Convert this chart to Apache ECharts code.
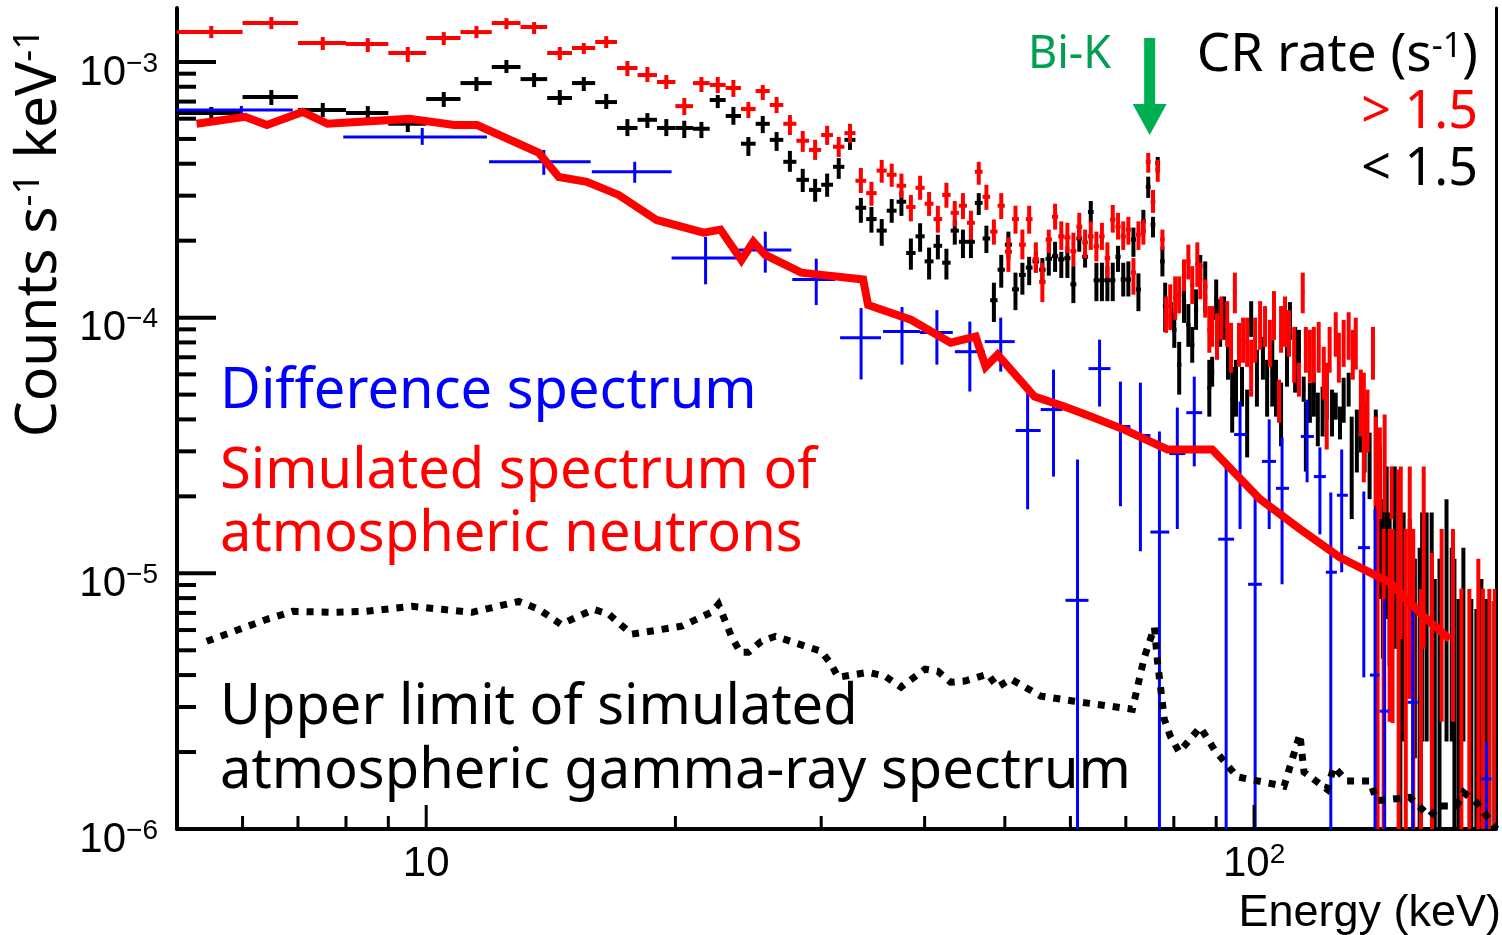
<!DOCTYPE html>
<html><head><meta charset="utf-8">
<script src="https://cdn.jsdelivr.net/npm/echarts@6/dist/echarts.min.js"></script>
<style>html,body{margin:0;padding:0;background:#fff;}#chart{width:1502px;height:935px;}</style>
</head><body><div id="chart"></div>
<script>
// ---------------- data (keV, counts s^-1 keV^-1) ----------------
const energyRange = [5, 196];
const rateRange = [1e-6, 1.626e-3];
const xMajorTicks = [10, 100];
const xMinorTicks = [6, 7, 8, 9, 20, 30, 40, 50, 60, 70, 80, 90];
const yMajorTicks = [1e-6, 1e-5, 1e-4, 1e-3];
const yMinorTicks = [2e-6,3e-6,4e-6,5e-6,6e-6,7e-6,8e-6,9e-6,2e-5,3e-5,4e-5,5e-5,6e-5,7e-5,8e-5,9e-5,2e-4,3e-4,4e-4,5e-4,6e-4,7e-4,8e-4,9e-4];
const binHalfWidth = 0.5;     // 1 keV bins of the CR-rate spectra
const biKEnergy = 74.8;

// CR rate < 1.5 s^-1 : [E, rate, rateLow, rateHigh]
const crLow = [
[5.5,6.31e-4,6.04e-4,6.67e-4],[6.5,7.30e-4,6.79e-4,7.77e-4],[7.5,6.49e-4,6.09e-4,6.91e-4],[8.5,6.31e-4,5.98e-4,6.72e-4],
[9.5,5.73e-4,5.32e-4,6.04e-4],[10.5,7.16e-4,6.67e-4,7.63e-4],[11.5,8.27e-4,7.70e-4,8.73e-4],[12.5,9.56e-4,9.05e-4,1.018e-3],
[13.5,8.57e-4,7.98e-4,9.05e-4],[14.5,7.23e-4,6.79e-4,7.77e-4],[15.5,8.27e-4,7.70e-4,8.73e-4],[16.5,6.97e-4,6.55e-4,7.50e-4],
[17.5,5.52e-4,5.13e-4,5.98e-4],[18.5,5.94e-4,5.52e-4,6.31e-4],[19.5,5.52e-4,5.13e-4,5.98e-4],[20.5,5.52e-4,5.04e-4,5.89e-4],
[21.5,5.48e-4,5.04e-4,5.83e-4],[22.5,7.10e-4,6.60e-4,7.43e-4],[23.5,6.15e-4,5.68e-4,6.67e-4],[24.5,4.79e-4,4.29e-4,5.09e-4],
[25.5,5.73e-4,5.27e-4,6.15e-4],[26.5,4.96e-4,4.49e-4,5.32e-4],[27.5,4.07e-4,3.72e-4,4.49e-4],[28.5,3.46e-4,3.10e-4,3.82e-4],
[29.5,3.16e-4,2.84e-4,3.49e-4],[30.5,3.31e-4,2.97e-4,3.66e-4],[31.5,3.89e-4,3.49e-4,4.21e-4],[32.5,4.96e-4,4.53e-4,5.42e-4],
[33.5,2.69e-4,2.35e-4,2.94e-4],[34.5,2.43e-4,2.15e-4,2.71e-4],[35.5,2.19e-4,1.91e-4,2.43e-4],[36.5,2.62e-4,2.35e-4,2.91e-4],
[37.5,2.84e-4,2.50e-4,3.13e-4],[38.5,1.79e-4,1.54e-4,2.04e-4],[39.5,2.08e-4,1.81e-4,2.34e-4],[40.5,1.66e-4,1.41e-4,1.88e-4],
[41.5,1.91e-4,1.69e-4,2.11e-4],[42.5,1.64e-4,1.41e-4,1.86e-4],[43.5,2.19e-4,1.93e-4,2.42e-4],[44.5,1.98e-4,1.71e-4,2.21e-4],
[45.5,1.98e-4,1.71e-4,2.25e-4],[46.5,2.81e-4,2.52e-4,3.07e-4],[47.5,2.04e-4,1.79e-4,2.29e-4],[48.5,1.17e-4,9.62e-5,1.37e-4],
[49.5,1.54e-4,1.31e-4,1.76e-4],[50.5,1.93e-4,1.69e-4,2.17e-4],[51.5,1.29e-4,1.07e-4,1.50e-4],[52.5,1.47e-4,1.23e-4,1.64e-4],
[53.5,1.57e-4,1.34e-4,1.73e-4],[54.5,1.66e-4,1.50e-4,1.81e-4],[55.5,1.54e-4,1.35e-4,1.71e-4],[56.5,1.70e-4,1.46e-4,1.98e-4],
[57.5,1.74e-4,1.51e-4,1.98e-4],[58.5,1.69e-4,1.43e-4,1.81e-4],[59.5,1.71e-4,1.43e-4,1.90e-4],[60.5,1.35e-4,1.14e-4,1.59e-4],
[61.5,2.04e-4,1.81e-4,2.25e-4],[62.5,1.73e-4,1.57e-4,1.81e-4],[63.5,2.59e-4,2.35e-4,2.86e-4],[64.5,1.40e-4,1.16e-4,1.64e-4],
[65.5,1.40e-4,1.16e-4,1.64e-4],[66.5,1.40e-4,1.16e-4,1.59e-4],[67.5,1.40e-4,1.16e-4,1.64e-4],[68.5,1.73e-4,1.51e-4,1.91e-4],
[69.5,1.41e-4,1.21e-4,1.64e-4],[70.5,1.41e-4,1.21e-4,1.66e-4],[71.5,2.02e-4,1.73e-4,2.25e-4],[72.5,1.29e-4,1.06e-4,1.49e-4],
[73.5,2.38e-4,2.11e-4,2.64e-4],[74.5,3.25e-4,2.94e-4,3.56e-4],[75.5,2.31e-4,2.06e-4,2.48e-4],[76.5,4.03e-4,3.69e-4,4.25e-4],
[77.5,1.66e-4,1.45e-4,1.90e-4],[78.1,1.11e-4,8.80e-5,1.37e-4],[79.4,1.01e-4,8.96e-5,1.15e-4],[80.1,8.96e-5,7.62e-5,1.04e-4],
[81.2,6.54e-5,5.00e-5,8.04e-5],[82.3,1.16e-4,9.54e-5,1.38e-4],[83.3,9.37e-5,7.69e-5,1.13e-4],[84.2,7.83e-5,6.66e-5,9.20e-5],
[85.1,1.07e-4,8.96e-5,1.29e-4],[86.1,1.59e-4,1.41e-4,1.76e-4],[87.3,1.32e-4,1.04e-4,1.66e-4],[88.3,5.32e-5,4.10e-5,6.84e-5],
[89.0,6.15e-5,5.37e-5,7.03e-5],[90.0,1.18e-4,9.80e-5,1.41e-4],[91.0,9.54e-5,7.69e-5,1.18e-4],[92.0,9.95e-5,8.19e-5,1.21e-4],
[93.0,6.66e-5,5.72e-5,7.69e-5],[94.1,4.78e-5,3.55e-5,6.42e-5],[95.1,5.32e-5,4.10e-5,6.84e-5],[96.7,5.37e-5,4.49e-5,6.42e-5],
[98.1,3.85e-5,2.84e-5,5.23e-5],[99.2,9.80e-5,8.41e-5,1.16e-4],[100.8,5.82e-5,4.49e-5,7.49e-5],[102.5,6.97e-5,5.72e-5,8.41e-5],
[103.7,5.32e-5,4.10e-5,6.84e-5],[105.2,6.09e-5,4.49e-5,8.19e-5],[106.3,5.32e-5,4.10e-5,6.84e-5],[107.8,4.18e-5,3.14e-5,5.57e-5],
[109.6,6.42e-5,5.37e-5,7.69e-5],[110.5,9.71e-5,8.19e-5,1.15e-4],[112.1,6.84e-5,5.09e-5,9.20e-5],[113.3,7.62e-5,6.42e-5,8.96e-5],
[114.8,5.23e-5,4.69e-5,5.88e-5],[115.5,3.43e-5,2.50e-5,4.69e-5],[116.8,4.57e-5,3.88e-5,5.57e-5],[118.1,5.00e-5,4.10e-5,6.09e-5],
[119.4,3.99e-5,3.14e-5,5.09e-5],[121.0,4.29e-5,3.43e-5,5.37e-5],[122.4,4.95e-5,3.99e-5,6.09e-5],[124.2,4.25e-5,3.43e-5,5.23e-5],
[125.5,4.53e-5,3.99e-5,5.09e-5],[127.0,3.88e-5,3.34e-5,4.49e-5],[128.3,4.69e-5,3.88e-5,5.82e-5],[130.1,5.23e-5,4.49e-5,6.09e-5],
[131.2,2.60e-5,1.63e-5,4.10e-5],[133.1,3.31e-5,2.48e-5,4.37e-5],[134.6,3.46e-5,2.97e-5,3.99e-5],[136.0,3.43e-5,2.48e-5,4.69e-5],
[137.9,2.64e-5,1.95e-5,3.55e-5],[140.3,2.67e-5,1.63e-5,4.37e-5],[141.9,1.63e-5,7.94e-6,3.14e-5],[143.1,1.14e-5,4.63e-6,1.95e-5],
[144.6,1.36e-5,6.63e-6,2.62e-5],[145.8,8.69e-6,4.35e-6,1.73e-5],[147.9,1.14e-5,5.07e-6,2.62e-5],[150.2,5.54e-6,1e-7,1.36e-5],
[151.6,6.07e-6,2.20e-6,1.73e-5],[154.2,7.94e-6,3.24e-6,1.63e-5],[156.4,5.07e-6,1.89e-6,1.14e-5],[158.5,3.54e-6,1e-7,1.26e-5],
[159.6,7.94e-6,2.20e-6,1.73e-5],[161.6,6.63e-6,2.20e-6,1.73e-5],[163.9,6.07e-6,2.20e-6,1.73e-5],[165.3,3.87e-6,1e-7,9.50e-6],
[167.5,3.24e-6,1e-7,1.14e-5],[170.8,6.63e-6,2.20e-6,1.95e-5],[173.3,5.54e-6,2.20e-6,1.26e-5],[174.6,3.87e-6,1e-7,1.14e-5],
[176.6,3.24e-6,1e-7,7.94e-6],[179.0,5.54e-6,2.20e-6,1.26e-5],[183.0,2.70e-6,1e-7,7.94e-6],[185.6,2.70e-6,1e-7,7.26e-6],
[188.2,3.24e-6,1e-7,9.50e-6],[190.8,3.24e-6,1e-7,7.94e-6],[192.4,2.70e-6,1e-7,7.80e-6],[195.1,2.26e-6,1e-7,7.80e-6]
];

// CR rate > 1.5 s^-1 : [E, rate, rateLow, rateHigh]
const crHigh = [
[5.5,1.309e-3,1.240e-3,1.382e-3],[6.5,1.420e-3,1.345e-3,1.499e-3],[7.5,1.186e-3,1.114e-3,1.252e-3],[8.5,1.176e-3,1.094e-3,1.240e-3],
[9.5,1.084e-3,1.0e-3,1.145e-3],[10.5,1.240e-3,1.165e-3,1.309e-3],[11.5,1.309e-3,1.240e-3,1.382e-3],[12.5,1.420e-3,1.345e-3,1.484e-3],
[13.5,1.370e-3,1.286e-3,1.433e-3],[14.5,1.084e-3,1.018e-3,1.145e-3],[15.5,1.134e-3,1.075e-3,1.186e-3],[16.5,1.197e-3,1.134e-3,1.262e-3],
[17.5,9.47e-4,8.81e-4,1.009e-3],[18.5,8.89e-4,8.35e-4,9.56e-4],[19.5,8.35e-4,7.84e-4,8.89e-4],[20.5,6.72e-4,6.20e-4,7.23e-4],
[21.5,8.27e-4,7.63e-4,8.73e-4],[22.5,8.13e-4,7.56e-4,8.73e-4],[23.5,7.91e-4,7.30e-4,8.50e-4],[24.5,6.55e-4,6.04e-4,6.97e-4],
[25.5,7.70e-4,7.10e-4,8.13e-4],[26.5,6.79e-4,6.31e-4,7.30e-4],[27.5,5.73e-4,5.18e-4,6.20e-4],[28.5,4.92e-4,4.45e-4,5.37e-4],
[29.5,4.53e-4,4.14e-4,4.96e-4],[30.5,5.18e-4,4.74e-4,5.63e-4],[31.5,4.66e-4,4.25e-4,5.09e-4],[32.5,5.27e-4,4.83e-4,5.73e-4],
[33.5,3.43e-4,3.07e-4,3.85e-4],[34.5,3.07e-4,2.74e-4,3.40e-4],[35.5,3.76e-4,3.37e-4,4.14e-4],[36.5,3.62e-4,3.25e-4,4.00e-4],
[37.5,3.28e-4,2.94e-4,3.66e-4],[38.5,2.71e-4,2.38e-4,3.02e-4],[39.5,3.22e-4,2.89e-4,3.59e-4],[40.5,2.79e-4,2.50e-4,3.10e-4],
[41.5,2.43e-4,2.15e-4,2.74e-4],[42.5,3.02e-4,2.69e-4,3.37e-4],[43.5,2.57e-4,2.27e-4,2.86e-4],[44.5,2.74e-4,2.43e-4,3.07e-4],
[45.5,2.35e-4,2.02e-4,2.62e-4],[46.5,3.72e-4,3.31e-4,4.07e-4],[47.5,2.97e-4,2.64e-4,3.31e-4],[48.5,2.17e-4,1.93e-4,2.42e-4],
[49.5,2.74e-4,2.43e-4,3.07e-4],[50.5,1.81e-4,1.51e-4,2.06e-4],[51.5,2.43e-4,2.13e-4,2.74e-4],[52.5,1.93e-4,1.69e-4,2.21e-4],
[53.5,2.43e-4,2.13e-4,2.74e-4],[54.5,1.69e-4,1.50e-4,1.97e-4],[55.5,1.38e-4,1.15e-4,1.64e-4],[56.5,2.02e-4,1.79e-4,2.21e-4],
[57.5,2.48e-4,2.21e-4,2.79e-4],[58.5,2.08e-4,1.84e-4,2.38e-4],[59.5,2.06e-4,1.79e-4,2.35e-4],[60.5,1.82e-4,1.59e-4,2.15e-4],
[61.5,2.27e-4,2.02e-4,2.57e-4],[62.5,1.97e-4,1.71e-4,2.21e-4],[63.5,2.08e-4,1.84e-4,2.38e-4],[64.5,1.90e-4,1.66e-4,2.17e-4],
[65.5,2.08e-4,1.84e-4,2.35e-4],[66.5,1.71e-4,1.43e-4,1.97e-4],[67.5,2.42e-4,2.15e-4,2.76e-4],[68.5,2.27e-4,2.02e-4,2.57e-4],
[69.5,2.08e-4,1.84e-4,2.38e-4],[70.5,2.21e-4,1.93e-4,2.48e-4],[71.5,1.50e-4,1.23e-4,1.71e-4],[72.5,2.11e-4,1.84e-4,2.38e-4],
[73.5,2.19e-4,1.93e-4,2.42e-4],[74.5,4.07e-4,3.69e-4,4.41e-4],[75.5,2.84e-4,2.57e-4,3.16e-4],[76.5,3.79e-4,3.40e-4,4.14e-4],
[77.5,2.02e-4,1.84e-4,2.21e-4],[78.3,1.02e-4,8.72e-5,1.21e-4],[79.2,1.11e-4,8.96e-5,1.35e-4],[80.3,1.20e-4,9.80e-5,1.45e-4],
[81.2,1.23e-4,1.04e-4,1.45e-4],[82.3,1.46e-4,1.27e-4,1.69e-4],[83.3,1.66e-4,1.41e-4,1.93e-4],[84.2,1.34e-4,1.13e-4,1.59e-4],
[85.4,1.62e-4,1.32e-4,1.97e-4],[86.1,1.40e-4,1.18e-4,1.64e-4],[87.3,1.20e-4,1.00e-4,1.41e-4],[88.3,8.96e-5,7.29e-5,1.11e-4],
[89.0,9.20e-5,7.69e-5,1.11e-4],[90.2,8.49e-5,6.84e-5,1.04e-4],[91.3,9.95e-5,8.19e-5,1.21e-4],[92.8,9.46e-5,7.69e-5,1.16e-4],
[93.8,7.62e-5,6.09e-5,9.54e-5],[94.8,1.26e-4,1.04e-4,1.50e-4],[95.9,7.83e-5,6.42e-5,9.54e-5],[97.0,8.19e-5,6.66e-5,1.00e-4],
[98.1,8.04e-5,6.42e-5,1.00e-4],[99.2,6.36e-5,4.91e-5,8.19e-5],[100.3,8.19e-5,6.66e-5,1.00e-4],[101.7,9.28e-5,7.49e-5,1.16e-4],
[103.1,9.20e-5,7.69e-5,1.11e-4],[104.5,7.97e-5,6.42e-5,9.80e-5],[105.7,1.01e-4,8.19e-5,1.27e-4],[107.2,4.65e-5,3.88e-5,5.72e-5],
[107.8,8.96e-5,7.29e-5,1.11e-4],[109.0,9.62e-5,7.69e-5,1.21e-4],[110.2,8.72e-5,7.03e-5,1.07e-4],[111.8,7.16e-5,5.57e-5,9.20e-5],
[113.3,5.72e-5,4.91e-5,6.66e-5],[114.5,1.26e-4,1.04e-4,1.50e-4],[115.5,7.49e-5,6.09e-5,9.20e-5],[116.8,7.09e-5,5.57e-5,8.96e-5],
[118.1,7.16e-5,5.57e-5,9.20e-5],[119.7,7.69e-5,6.09e-5,9.62e-5],[121.4,6.09e-5,4.78e-5,7.69e-5],[122.4,4.53e-5,3.05e-5,6.66e-5],
[123.4,7.49e-5,6.09e-5,9.20e-5],[125.5,8.65e-5,7.03e-5,1.05e-4],[126.6,6.97e-5,5.57e-5,8.72e-5],[128.3,7.97e-5,6.42e-5,9.80e-5],
[130.1,8.49e-5,6.84e-5,1.05e-4],[131.6,7.16e-5,5.72e-5,8.96e-5],[132.7,7.97e-5,6.26e-5,1.00e-4],[134.6,4.65e-5,3.43e-5,6.26e-5],
[135.7,3.72e-5,2.27e-5,6.09e-5],[137.1,3.96e-5,2.97e-5,5.23e-5],[139.2,7.29e-5,5.72e-5,9.20e-5],[140.3,2.74e-5,1.83e-5,4.10e-5],
[141.9,2.46e-5,1.63e-5,3.72e-5],[143.8,2.70e-5,1.73e-5,4.18e-5],[146.6,2.07e-5,1.63e-5,2.62e-5],[141.0,8.0e-6,1e-7,2.0e-5],
[143.4,3.87e-6,1e-7,1.49e-5],[145.8,6.63e-6,2.63e-6,1.49e-5],[147.0,6.6e-6,2.6e-6,1.49e-5],[149.5,5.07e-6,1e-7,2.55e-5],
[150.4,1.63e-5,5.54e-6,2.62e-5],[152.5,6.6e-6,1e-7,1.49e-5],[154.2,1.14e-5,3.24e-6,2.62e-5],[155.7,5.07e-6,1e-7,1.49e-5],
[159.1,3.24e-6,1e-7,8.69e-6],[160.3,1.36e-5,5.07e-6,2.62e-5],[164.0,4.0e-6,1e-7,1.2e-5],[168.5,6.63e-6,2.63e-6,1.49e-5],
[173.9,6.63e-6,2.63e-6,1.49e-5],[178.0,3.5e-6,1e-7,8.7e-6],[182.0,3.24e-6,1e-7,8.69e-6],[186.6,3.87e-6,1e-7,1.14e-5],
[189.0,3.5e-6,1e-7,8.7e-6],[192.4,3.24e-6,1e-7,8.69e-6],[195.4,3.24e-6,1e-7,8.69e-6]
];

// Difference spectrum : [Elow, Ehigh, E, rate, rateLow, rateHigh]
const diffSpectrum = [
[5.0,6.9,5.98,6.49e-4,6.26e-4,6.73e-4],[7.94,11.84,9.89,5.09e-4,4.74e-4,5.52e-4],[11.91,15.8,13.87,4.07e-4,3.62e-4,4.53e-4],
[15.85,19.79,17.86,3.72e-4,3.37e-4,4.07e-4],[19.79,23.83,21.75,1.71e-4,1.35e-4,2.07e-4],[23.83,27.61,25.68,1.84e-4,1.50e-4,2.17e-4],
[27.68,31.19,29.59,1.41e-4,1.12e-4,1.70e-4],[31.62,35.43,33.52,8.35e-5,5.73e-5,1.09e-4],[35.63,39.48,37.56,8.82e-5,6.55e-5,1.10e-4],
[39.48,43.26,41.39,8.74e-5,6.55e-5,1.07e-4],[43.51,47.28,45.36,7.36e-5,5.14e-5,9.65e-5],[47.28,51.39,49.43,8.06e-5,6.15e-5,1.0e-4],
[51.52,55.24,53.27,3.62e-5,1.78e-5,5.47e-5],[55.24,58.7,57.25,4.37e-5,2.39e-5,6.26e-5],[59.19,63.1,61.2,7.84e-6,1e-7,2.79e-5],
[63.1,67.08,65.07,6.32e-5,4.49e-5,8.20e-5],[67.08,70.89,68.96,3.75e-5,1.83e-5,5.62e-5],[70.89,74.95,72.9,3.46e-5,1.22e-5,5.57e-5],
[74.95,78.99,76.86,1.45e-5,1e-7,3.59e-5],[78.99,82.59,80.78,2.94e-5,1.49e-5,4.45e-5],[82.82,86.57,84.68,4.25e-5,2.62e-5,5.88e-5],
[90.51,94.6,92.53,1.36e-5,1e-7,2.67e-5],[94.6,98.07,96.18,3.49e-5,1.49e-5,4.70e-5],[98.35,102.2,100.3,9.06e-6,1e-7,2.0e-5],
[102.2,106.3,104.3,2.74e-5,1.49e-5,4.0e-5],[106.3,110.2,108.1,2.15e-5,9.06e-6,3.40e-5],[113.9,118.1,115.9,3.43e-5,2.27e-5,4.78e-5],
[118.1,122.1,120.1,2.39e-5,1.42e-5,3.11e-5],[122.1,125.9,123.8,1.01e-5,1e-7,2.07e-5],[125.9,129.8,127.6,2.02e-5,1.01e-5,3.05e-5],
[133.5,138.0,135.7,1.26e-5,3.92e-6,2.09e-5],[138.0,141.8,140.0,4.0e-6,1e-7,1.78e-5],[141.8,145.8,143.8,2.89e-6,1e-7,7.91e-6],
[153.3,157.6,155.5,3.13e-6,1e-7,7.23e-6],[188.2,193.5,190.9,1.57e-6,1e-7,2.19e-6]
];

// Simulated spectrum of atmospheric neutrons : [E, rate]
const neutronSim = [
[5.28,5.73e-4],[6.04,6.10e-4],[6.42,5.67e-4],[7.09,6.38e-4],[7.60,5.73e-4],[9.54,5.99e-4],[10.81,5.67e-4],[11.52,5.67e-4],
[13.68,4.41e-4],[14.46,3.55e-4],[15.63,3.40e-4],[17.08,3.02e-4],[18.98,2.41e-4],[21.63,2.15e-4],[22.67,2.21e-4],[24.03,1.68e-4],
[24.84,1.98e-4],[25.68,1.76e-4],[28.38,1.50e-4],[33.71,1.41e-4],[34.18,1.12e-4],[38.5,9.82e-5],[43.0,7.98e-5],[46.1,8.43e-5],
[47.4,6.43e-5],[49.0,7.17e-5],[54.3,4.91e-5],[59.0,4.49e-5],[63.5,4.11e-5],[69.7,3.65e-5],[78.6,3.05e-5],[89.0,3.05e-5],
[101.7,1.95e-5],[113.6,1.49e-5],[126.9,1.155e-5],[145.8,9.22e-6],[160.3,6.79e-6],[172.3,5.52e-6]
];

// Upper limit of simulated atmospheric gamma-ray spectrum : [E, rate]
const gammaUpperLimit = [
[5.43,5.42e-6],[5.95,6.04e-6],[6.42,6.61e-6],[6.90,7.10e-6],[7.70,7.04e-6],[8.47,7.10e-6],[9.62,7.43e-6],[10.45,7.23e-6],
[11.36,7.04e-6],[12.94,7.77e-6],[13.68,7.23e-6],[14.54,6.32e-6],[15.94,7.23e-6],[16.62,6.92e-6],[17.71,5.78e-6],[20.35,6.21e-6],
[22.11,7.04e-6],[22.54,7.57e-6],[23.37,5.67e-6],[23.96,4.91e-6],[24.50,4.91e-6],[25.40,5.42e-6],[26.41,5.67e-6],[28.70,5.19e-6],
[30.0,4.96e-6],[30.85,4.41e-6],[31.45,3.92e-6],[34.18,4.10e-6],[35.83,3.96e-6],[37.46,3.59e-6],[40.04,4.22e-6],[41.51,4.14e-6],
[43.0,3.75e-6],[44.73,3.79e-6],[47.69,4.03e-6],[49.0,3.59e-6],[50.82,3.86e-6],[55.24,3.31e-6],[60.68,3.16e-6],[71.29,2.94e-6],
[73.7,4.70e-6],[75.8,6.15e-6],[76.4,4.61e-6],[77.9,2.69e-6],[79.2,2.31e-6],[81.2,2.00e-6],[86.1,2.50e-6],[89.5,2.05e-6],
[95.4,1.60e-6],[108.7,1.47e-6],[113.6,2.35e-6],[114.9,1.67e-6],[122.5,1.43e-6],[124.9,1.75e-6],[129.4,1.54e-6],[138.0,1.54e-6],
[140.7,1.29e-6],[154.2,1.33e-6],[163.0,1.12e-6],[167.5,1.23e-6],[175.6,1.23e-6],[179.1,1.39e-6],[185.6,1.27e-6],[196.2,1.0e-6]
];

// ---------------- chart ----------------
const BLACK = '#000000', RED = '#ff0000', BLUE = '#0000ff', GREEN = '#00b050';
const LATIN = '"Liberation Sans", Arial, Helvetica, sans-serif';
const SANS = '"Noto Sans", "Open Sans", sans-serif';
const chart = echarts.init(document.getElementById('chart'));

function isPow10(v) { const l = Math.log10(v); return Math.abs(l - Math.round(l)) < 1e-6; }

function seg(a, b, color, w) {
  return { type: 'line', shape: { x1: a[0], y1: a[1], x2: b[0], y2: b[1] }, style: { stroke: color, lineWidth: w } };
}

function binnedCross(name, data, color, w, z) {
  return {
    name, type: 'custom', data, z, clip: true, silent: true, encode: { x: 0, y: [1, 2, 3] },
    renderItem: function (params, api) {
      const e = api.value(0), y = api.value(1), lo = api.value(2), hi = api.value(3);
      return { type: 'group', children: [
        seg(api.coord([e - binHalfWidth, y]), api.coord([e + binHalfWidth, y]), color, w),
        seg(api.coord([e, lo]), api.coord([e, hi]), color, w)
      ] };
    }
  };
}

const diffSeries = {
  name: 'Difference spectrum', type: 'custom', data: diffSpectrum, z: 4, clip: true, silent: true,
  encode: { x: [0, 1, 2], y: [3, 4, 5] },
  renderItem: function (params, api) {
    const el = api.value(0), eh = api.value(1), e = api.value(2), y = api.value(3), lo = api.value(4), hi = api.value(5);
    return { type: 'group', children: [
      seg(api.coord([el, y]), api.coord([eh, y]), BLUE, 3),
      seg(api.coord([e, lo]), api.coord([e, hi]), BLUE, 3)
    ] };
  }
};

function tickSeries(data, isX, len, w) {
  return {
    type: 'custom', z: 8, clip: false, silent: true,
    data: isX ? data.map(v => [v, rateRange[0]]) : data.map(v => [energyRange[0], v]),
    renderItem: function (params, api) {
      const p = api.coord([api.value(0), api.value(1)]);
      const q = isX ? [p[0], p[1] - len] : [p[0] + len, p[1]];
      return seg(p, q, BLACK, w);
    }
  };
}

const labelRich = {
  b: { fontFamily: LATIN, fontSize: 42, lineHeight: 44, color: BLACK, verticalAlign: 'bottom' },
  s: { fontFamily: LATIN, fontSize: 28, lineHeight: 6, color: BLACK, verticalAlign: 'top' }
};

const option = {
  animation: false,
  backgroundColor: '#ffffff',
  grid: { left: 177, right: 6, top: 8, bottom: 106, containLabel: false, outerBoundsMode: 'none' },
  xAxis: {
    type: 'log', logBase: 10, min: energyRange[0], max: energyRange[1],
    axisLine: { show: true, onZero: false, lineStyle: { color: BLACK, width: 4 } },
    axisTick: { show: false }, splitLine: { show: false }, minorTick: { show: false },
    axisLabel: {
      show: true, margin: 12, hideOverlap: false, showMinLabel: true, showMaxLabel: true,
      formatter: function (v) {
        if (!isPow10(v)) return '';
        const n = Math.round(Math.log10(v));
        return n === 1 ? '{b|10}' : '{b|10}{s|' + n + '}';
      },
      rich: labelRich
    }
  },
  yAxis: [{
    type: 'log', logBase: 10, min: rateRange[0], max: rateRange[1],
    axisLine: { show: true, onZero: false, lineStyle: { color: BLACK, width: 4 } },
    axisTick: { show: false }, splitLine: { show: false }, minorTick: { show: false },
    axisLabel: {
      show: true, margin: 19, padding: [20, 0, 0, 0], hideOverlap: false,
      formatter: function (v) {
        if (!isPow10(v)) return '';
        const n = Math.round(Math.log10(v));
        return '{b|10}{s|\u2212' + (-n) + '}';
      },
      rich: labelRich
    }
  }, {
    type: 'log', logBase: 10, min: rateRange[0], max: rateRange[1], position: 'right',
    axisLine: { show: true, onZero: false, lineStyle: { color: BLACK, width: 3 } },
    axisTick: { show: false }, axisLabel: { show: false }, splitLine: { show: false }
  }],
  series: [
    binnedCross('CR rate < 1.5', crLow, BLACK, 4, 2),
    binnedCross('CR rate > 1.5', crHigh, RED, 4, 3),
    diffSeries,
    {
      name: 'Simulated spectrum of atmospheric neutrons', type: 'line', data: neutronSim, z: 5,
      showSymbol: false, symbol: 'none', silent: true,
      lineStyle: { color: RED, width: 8, join: 'miter' }
    },
    {
      name: 'Upper limit of simulated atmospheric gamma-ray spectrum', type: 'line', data: gammaUpperLimit, z: 6,
      showSymbol: false, symbol: 'none', silent: true,
      lineStyle: { color: BLACK, width: 7, type: [7, 8], cap: 'butt', join: 'miter' }
    },
    tickSeries(yMajorTicks, false, 39, 4),
    tickSeries(yMinorTicks, false, 19, 4),
    tickSeries(xMajorTicks, true, 24, 3),
    tickSeries(xMinorTicks, true, 13, 3)
  ]
};
chart.setOption(option);

// ---------------- annotations ----------------
const arrowX = chart.convertToPixel({ xAxisIndex: 0 }, biKEnergy);
chart.setOption({
  graphic: [
    { type: 'text', x: 220, y: 392, z: 100, style: { text: 'Difference spectrum', font: '56px ' + SANS, fill: BLUE, align: 'left', verticalAlign: 'middle' } },
    { type: 'text', x: 220, y: 472, z: 100, style: { text: 'Simulated spectrum of', font: '56px ' + SANS, fill: RED, align: 'left', verticalAlign: 'middle' } },
    { type: 'text', x: 220, y: 535, z: 100, style: { text: 'atmospheric neutrons', font: '56px ' + SANS, fill: RED, align: 'left', verticalAlign: 'middle' } },
    { type: 'text', x: 220, y: 708, z: 100, style: { text: 'Upper limit of simulated', font: '56px ' + SANS, fill: BLACK, align: 'left', verticalAlign: 'middle' } },
    { type: 'text', x: 220, y: 772, z: 100, style: { text: 'atmospheric gamma-ray spectrum', font: '56px ' + SANS, fill: BLACK, align: 'left', verticalAlign: 'middle' } },
    { type: 'text', x: 1028, y: 55, z: 100, style: { text: 'Bi-K', font: '45px ' + SANS, fill: '#00a050', align: 'left', verticalAlign: 'middle' } },
    { type: 'rect', z: 100, shape: { x: arrowX - 5.5, y: 38, width: 11, height: 68 }, style: { fill: GREEN } },
    { type: 'polygon', z: 100, shape: { points: [[arrowX - 17, 104], [arrowX + 17, 104], [arrowX, 135]] }, style: { fill: GREEN } },
    { type: 'text', x: 1478, y: 56, z: 100, style: {
        text: '{a|CR rate (s}{s|-1}{a|)}', align: 'right', verticalAlign: 'middle',
        rich: { a: { fontFamily: SANS, fontSize: 53, lineHeight: 52, fill: BLACK, verticalAlign: 'bottom' },
                s: { fontFamily: SANS, fontSize: 34, lineHeight: 34, fill: BLACK, verticalAlign: 'top' } } } },
    { type: 'text', x: 1478, y: 113, z: 100, style: { text: '> 1.5', font: '52px ' + SANS, fill: RED, align: 'right', verticalAlign: 'middle' } },
    { type: 'text', x: 1478, y: 170, z: 100, style: { text: '< 1.5', font: '52px ' + SANS, fill: BLACK, align: 'right', verticalAlign: 'middle' } },
    { type: 'text', x: 39, y: 233, z: 100, rotation: Math.PI / 2, style: {
        text: '{a|Counts s}{s|-1}{a| keV}{s|-1}', align: 'center', verticalAlign: 'middle',
        rich: { a: { fontFamily: SANS, fontSize: 57, lineHeight: 58, fill: BLACK, verticalAlign: 'bottom' },
                s: { fontFamily: SANS, fontSize: 37, lineHeight: 41, fill: BLACK, verticalAlign: 'top' } } } },
    { type: 'text', x: 1501, y: 914, z: 100, style: { text: 'Energy (keV)', font: '45px ' + LATIN, fill: BLACK, align: 'right', verticalAlign: 'middle' } }
  ]
});
</script>
</body></html>
